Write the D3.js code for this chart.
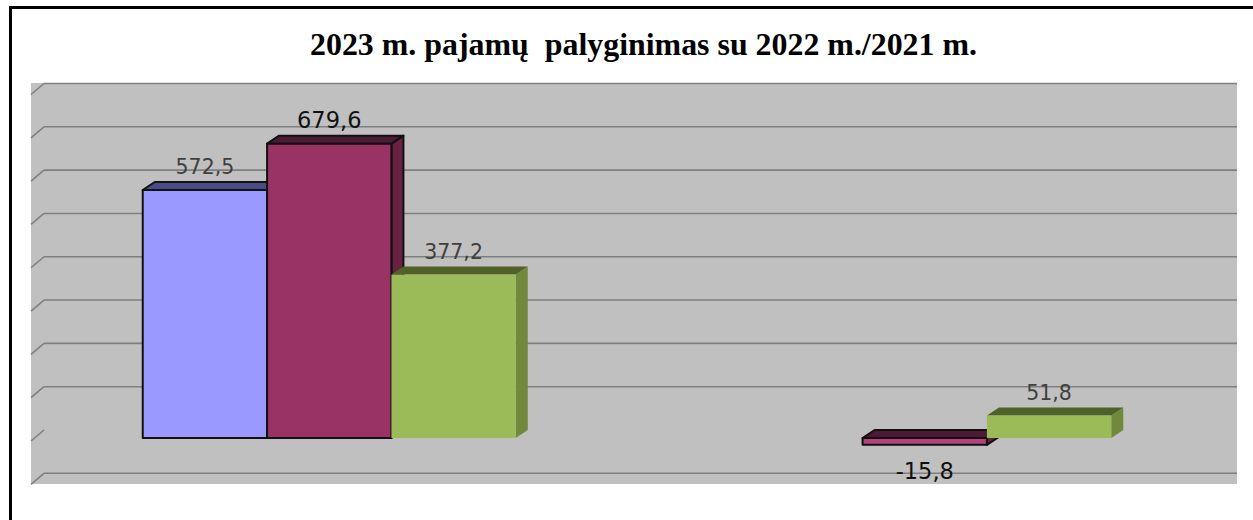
<!DOCTYPE html>
<html>
<head>
<meta charset="utf-8">
<script src="https://cdn.jsdelivr.net/npm/d3@7"></script>
<style>
  html, body { margin: 0; padding: 0; background: #fff; }
  svg { display: block; }
</style>
</head>
<body>
<svg id="chart" width="1253" height="520"></svg>
<script>
var title = "2023 m. pajamų  palyginimas su 2022 m./2021 m.";
var categories = ["2023 m./2022 m.", "2023 m./2021 m."];
var seriesNames = ["Serija 1", "Serija 2", "Serija 3"];
var valuesA = [572.5, null];      // blue
var valuesB = [679.6, -15.8];     // maroon
var valuesC = [377.2, 51.8];      // green
var yTicks = [-100, 0, 100, 200, 300, 400, 500, 600, 700, 800];

var front = ["#9999ff", "#993366", "#9bbb59"],
    top3d = ["#4b4b86", "#4d1a33", "#4f6228"],
    side = ["#3d3d70", "#66223f", "#71893c"],
    outline = ["#111", "#111", "none"],
    labelSize = [20.5, 22.5, 20.5],
    labelColor = ["#404040", "#111", "#404040"];

var svg = d3.select("#chart");

// wall depth and bar depth offsets
var wdx = 13, wdy = 11, bdx = 12, bdy = 8;
var plotL = 31, plotR = 1237, plotT = 83, plotB = 484;

var y = d3.scaleLinear().domain([-100, 800]).range([473.3, 83.5]);

var x0 = d3.scaleBand()
    .domain(categories)
    .range([31.5, 1222.5])
    .paddingInner(0.3736)
    .paddingOuter(0.1868);

var x1 = d3.scaleBand()
    .domain(seriesNames)
    .range([0, x0.bandwidth()]);

// outer frame
svg.append("rect")
    .attr("x", 10.5).attr("y", 7.5)
    .attr("width", 1260).attr("height", 530)
    .attr("fill", "#fff")
    .attr("stroke", "#000").attr("stroke-width", 3);

svg.append("text")
    .attr("x", 310).attr("y", 55)
    .attr("textLength", 667)
    .attr("lengthAdjust", "spacingAndGlyphs")
    .style("white-space", "pre")
    .style("font-family", "'Times New Roman', 'Liberation Serif', serif")
    .style("font-weight", "bold")
    .style("font-size", "31px")
    .attr("fill", "#000")
    .text(title);

// plot background
svg.append("rect")
    .attr("x", plotL).attr("y", plotT)
    .attr("width", plotR - plotL).attr("height", plotB - plotT)
    .attr("fill", "#c0c0c0");

var grid = svg.append("g")
    .attr("stroke", "#7f7f7f")
    .attr("stroke-width", 1.6)
    .attr("fill", "none");

grid.selectAll("line.h")
  .data(yTicks.filter(function(t) { return t !== 0; }))
  .enter().append("line")
    .attr("class", "h")
    .attr("x1", plotL + wdx).attr("x2", plotR)
    .attr("y1", function(d) { return y(d); })
    .attr("y2", function(d) { return y(d); });

grid.selectAll("line.d")
  .data(yTicks)
  .enter().append("line")
    .attr("class", "d")
    .attr("x1", plotL).attr("x2", plotL + wdx)
    .attr("y1", function(d) { return y(d) + wdy; })
    .attr("y2", function(d) { return y(d); });

// bars
var cols = [valuesA, valuesB, valuesC];
var bars = [];
categories.forEach(function(c, ci) {
  cols.forEach(function(vals, si) {
    if (vals[ci] == null) return;
    bars.push({ cat: c, si: si, v: vals[ci] });
  });
});

var gBars = svg.append("g");

bars.forEach(function(b) {
  var xf = x0(b.cat) + x1(seriesNames[b.si]),
      w = x1.bandwidth(),
      yTop = y(Math.max(0, b.v)) + bdy,
      yBot = y(Math.min(0, b.v)) + bdy;
  var g = gBars.append("g")
      .attr("stroke", outline[b.si])
      .attr("stroke-width", 2)
      .attr("stroke-linejoin", "round");
  g.append("polygon")
      .attr("points", [[xf + w, yTop], [xf + w + bdx, yTop - bdy], [xf + w + bdx, yBot - bdy], [xf + w, yBot]].join(" "))
      .attr("fill", side[b.si]);
  g.append("polygon")
      .attr("points", [[xf, yTop], [xf + bdx, yTop - bdy], [xf + w + bdx, yTop - bdy], [xf + w, yTop]].join(" "))
      .attr("fill", top3d[b.si]);
  g.append("rect")
      .attr("x", xf).attr("y", yTop)
      .attr("width", w).attr("height", yBot - yTop)
      .attr("fill", b.v < 0 ? "#b4427a" : front[b.si]);
});

// labels
svg.append("g").selectAll("text")
  .data(bars)
  .enter().append("text")
    .attr("text-anchor", "middle")
    .attr("x", function(d) { return x0(d.cat) + x1(seriesNames[d.si]) + x1.bandwidth() / 2; })
    .attr("y", function(d) {
      return d.v >= 0 ? y(d.v) - 8 : y(d.v) + bdy + 34;
    })
    .style("font-family", "'DejaVu Sans', Verdana, sans-serif")
    .style("font-size", function(d) { return labelSize[d.si] + "px"; })
    .attr("fill", function(d) { return labelColor[d.si]; })
    .text(function(d) { return d3.format(".1f")(d.v).replace(".", ",").replace("−", "-"); });
</script>
</body>
</html>
